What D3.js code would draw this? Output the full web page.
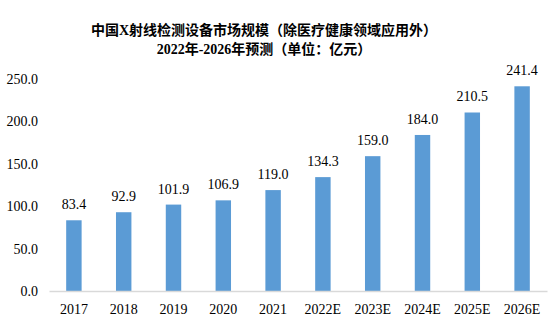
<!DOCTYPE html>
<html><head><meta charset="utf-8">
<script src="https://cdn.jsdelivr.net/npm/d3@7"></script>
<style>body{margin:0;background:#fff}svg{display:block}</style>
</head><body>
<script>
const categories = ["2017","2018","2019","2020","2021","2022E","2023E","2024E","2025E","2026E"];
const values = [83.4,92.9,101.9,106.9,119.0,134.3,159.0,184.0,210.5,241.4];
const yTicks = [0,50,100,150,200,250];
const titleLines = ["中国X射线检测设备市场规模（除医疗健康领域应用外）","2022年-2026年预测（单位：亿元）"];

const W=551,H=328;
const m={left:49,right:4,top:79,bottom:37};
const svg=d3.select("body").append("svg").attr("width",W).attr("height",H);
const font='"Liberation Serif","Times New Roman","Noto Sans CJK SC",serif';

const x=d3.scaleBand().domain(categories).range([m.left,W-m.right]).paddingInner(0.69).paddingOuter(0.345);
const y=d3.scaleLinear().domain([0,250]).range([H-m.bottom,m.top]);

svg.selectAll("text.title").data(titleLines).join("text")
  .attr("x",264).attr("y",(d,i)=>35+i*19).attr("text-anchor","middle")
  .attr("font-family",font).attr("font-weight","bold").attr("font-size",14).attr("fill","#000")
  .text(d=>d);

const ya=svg.append("g").attr("transform",`translate(${m.left},0)`)
  .call(d3.axisLeft(y).tickValues(yTicks).tickFormat(d3.format(".1f")).tickSize(0).tickPadding(11));
ya.select(".domain").remove();
ya.selectAll("text").attr("font-family",font).attr("font-size",14).attr("fill","#000");

svg.selectAll("rect.bar").data(values).join("rect").attr("class","bar")
  .attr("x",(d,i)=>x(categories[i])).attr("width",x.bandwidth())
  .attr("y",d=>y(d)).attr("height",d=>y(0)-y(d)).attr("fill","#5B9BD5");

svg.selectAll("text.val").data(values).join("text").attr("class","val")
  .attr("x",(d,i)=>x(categories[i])+x.bandwidth()/2).attr("y",d=>y(d)-11)
  .attr("text-anchor","middle").attr("font-family",font).attr("font-size",14).attr("fill","#000")
  .text(d=>d.toFixed(1));

const xa=svg.append("g").attr("transform",`translate(0,${y(0)})`)
  .call(d3.axisBottom(x).tickSize(0).tickPadding(13));
xa.select(".domain").attr("stroke","#D9D9D9").attr("stroke-width",1.5);
xa.selectAll("text").attr("font-family",font).attr("font-size",14).attr("fill","#000");
</script>
</body></html>
